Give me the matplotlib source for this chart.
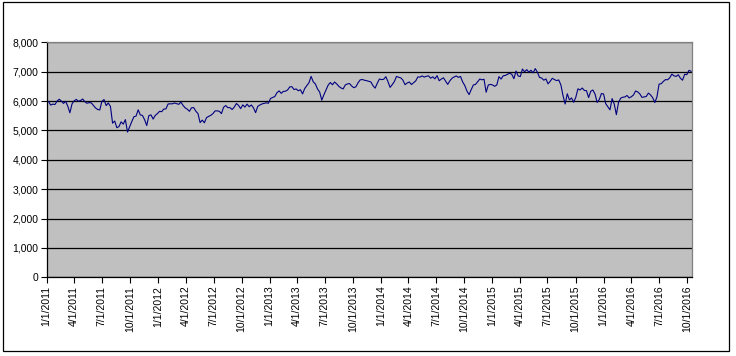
import pandas as pd
import matplotlib.pyplot as plt
from matplotlib.patches import Rectangle
from matplotlib.ticker import FuncFormatter

plt.rcParams['font.family'] = ['Liberation Sans', 'DejaVu Sans']

# Tygodniowe wartości indeksu (piątki)
val_2011 = [5985, 5863, 5896, 5881,
            5997, 6062, 6001, 5919,
            5990, 5828, 5600, 5901,
            6009, 6055, 5996, 6018, 6069,
            5976, 5925, 5948, 5938,
            5855, 5765, 5714, 5697,
            5990, 6050, 5845, 5935, 5815,
            5247, 5320, 5092, 5131,
            5292, 5214, 5368, 4944, 5128,
            5303, 5466, 5488, 5702,
            5527, 5510, 5363, 5165,
            5505, 5529, 5387, 5512, 5572]
val_2012 = [5650, 5637, 5728, 5733,
            5901, 5906, 5905, 5935,
            5911, 5887, 5965, 5854, 5768,
            5723, 5651, 5772, 5777,
            5655, 5575, 5267, 5351,
            5260, 5435, 5478, 5513, 5571,
            5663, 5666, 5651, 5573,
            5787, 5847, 5777, 5776, 5711,
            5795, 5916, 5853, 5742,
            5871, 5794, 5896, 5806,
            5868, 5770, 5605, 5819, 5866,
            5902, 5921, 5940, 5925]
val_2013 = [6089, 6121, 6154, 6284,
            6347, 6263, 6328, 6335,
            6379, 6483, 6489, 6393, 6412,
            6350, 6385, 6244, 6426,
            6522, 6624, 6840, 6655, 6583,
            6411, 6308, 6030, 6215,
            6375, 6544, 6631, 6555,
            6647, 6583, 6499, 6446, 6413,
            6547, 6583, 6596, 6512,
            6454, 6487, 6622, 6721,
            6734, 6708, 6694, 6674, 6651,
            6522, 6440, 6606, 6750]
val_2014 = [6731, 6740, 6829, 6663, 6465,
            6558, 6663, 6838, 6810,
            6789, 6712, 6557, 6615,
            6649, 6562, 6625, 6685,
            6822, 6815, 6856, 6816, 6844,
            6858, 6778, 6825, 6757,
            6866, 6691, 6749, 6791,
            6679, 6567, 6689, 6776, 6820,
            6855, 6806, 6837, 6650,
            6528, 6340, 6220, 6389, 6546,
            6567, 6654, 6750, 6723,
            6742, 6300, 6546, 6566]
val_2015 = [6548, 6501, 6550, 6832, 6749,
            6860, 6873, 6912, 6946,
            6912, 6761, 7023, 6855,
            6833, 7090, 6995, 7070,
            6986, 7047, 6960, 7104, 6984,
            6804, 6784, 6710, 6753,
            6585, 6673, 6775, 6731, 6696,
            6719, 6551, 6188, 5900,
            6248, 6042, 6105, 5959,
            6130, 6416, 6378, 6444, 6361,
            6353, 6118, 6334, 6375,
            6238, 5953, 6052, 6255]
val_2016 = [6242, 5912, 5804, 5700, 6083,
            5898, 5537, 5950, 6097,
            6130, 6140, 6190, 6106,
            6146, 6204, 6343, 6311, 6242,
            6125, 6139, 6156, 6271,
            6209, 6116, 5950, 6138,
            6577, 6590, 6669, 6730, 6724,
            6793, 6916, 6859, 6838,
            6895, 6777, 6710, 6910, 6899,
            7044, 7014]

wartosci = val_2011 + val_2012 + val_2013 + val_2014 + val_2015 + val_2016
daty = pd.date_range('2011-01-07', periods=len(wartosci), freq='W-FRI')
seria = pd.Series(wartosci, index=daty)

# Etykiety osi X (co kwartał)
kwartaly = pd.date_range('2011-01-01', '2016-10-01', freq='QS')
etykiety_x = [f"{d.month}/{d.day}/{d.year}" for d in kwartaly]
poziomy_y = list(range(0, 8001, 1000))

fig = plt.figure(figsize=(7.36, 3.56), dpi=100)
ax = fig.add_axes([46.7 / 736, 1 - 277.3 / 356, (692 - 46.7) / 736, (277.3 - 42.3) / 356])

ax.set_facecolor('#c0c0c0')
ax.plot(seria.index, seria.values, color='#000080', lw=0.8, zorder=3)

ax.set_ylim(0, 8000)
ax.set_yticks(poziomy_y)
ax.yaxis.set_major_formatter(FuncFormatter(lambda v, p: f"{int(v):,}"))
ax.set_xlim(pd.Timestamp('2011-01-01'), pd.Timestamp('2016-10-17'))
ax.set_xticks(kwartaly)
ax.set_xticklabels(etykiety_x, rotation=90)

ax.grid(axis='y', color='black', lw=0.9, zorder=1)
ax.set_axisbelow(True)
ax.tick_params(axis='both', labelsize=7.5, length=4, width=0.8, color='black', pad=2)

for s in ['top', 'right']:
    ax.spines[s].set_color('#808080')
    ax.spines[s].set_linewidth(0.9)
for s in ['left', 'bottom']:
    ax.spines[s].set_color('black')
    ax.spines[s].set_linewidth(0.9)

# Ramka całego wykresu
fig.patches.append(Rectangle((3 / 736, 1 - 351 / 356), 726 / 736, 349 / 356,
                             transform=fig.transFigure, fill=False,
                             edgecolor='black', lw=0.9))

fig.savefig('out.png', dpi=100)
